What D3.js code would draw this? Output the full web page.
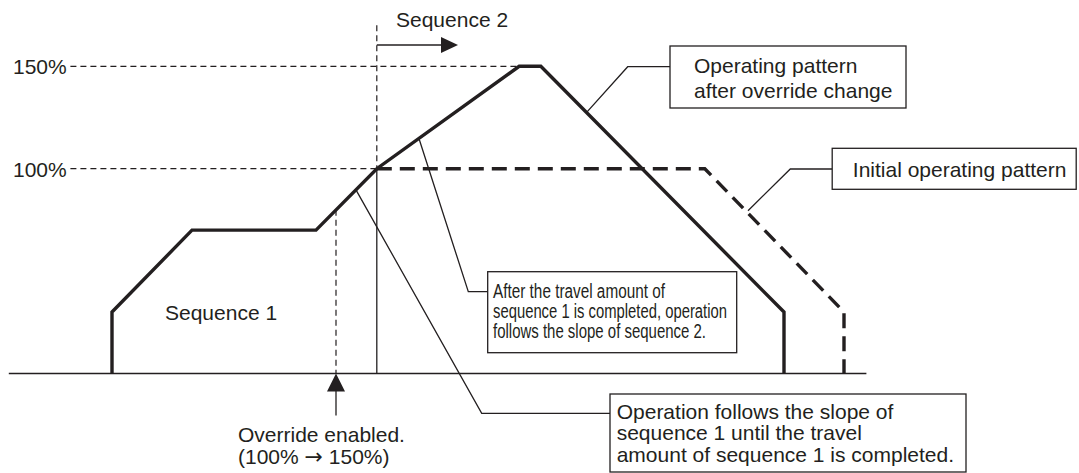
<!DOCTYPE html>
<html>
<head>
<meta charset="utf-8">
<script src="https://cdn.jsdelivr.net/npm/d3@7"></script>
<style>
  html, body { margin: 0; padding: 0; background: #fff; }
  svg { display: block; }
</style>
</head>
<body>
<svg id="chart"></svg>
<script>
// Override change: speed pattern before / after override (speed in %, time in arbitrary units)

const W = 1079;
const H = 473;
const INK = "#231f20";
const FONT = "'Liberation Sans', Arial, Helvetica, sans-serif";

// reference speed levels
const SPEED_LEVELS = [150, 100];
const SPEED_LABELS = ["150%", "100%"];

// operating pattern after override change (solid)
const afterTime = [0, 0, 10, 25.5, 33.1, 50.9, 53.6, 84, 84];
const afterSpeed = [0, 30, 70, 70, 100, 150, 150, 30, 0];

// initial operating pattern, from where sequence 2 begins (dashed)
const initTime = [33.1, 74.1, 91.5, 91.5];
const initSpeed = [100, 100, 30, 0];

// events
const OVERRIDE_T = 28;
const OVERRIDE_SPEED = 80;
const SEQ2_T = 33.1;
const SEQ2_TOP = 170;
const SEQ2_ARROW_END = 43.25;
const SEQ2_ARROW_SPEED = 160.4;
const AXIS_T = [-12.9, 94.3];
const REF_START_T = -5.2;

const x = d3.scaleLinear().domain([0, 100]).range([112, 912]);
const y = d3.scaleLinear().domain([0, 150]).range([373.5, 66.3]);

const svg = d3.select("#chart").attr("width", W).attr("height", H);

const line = d3.line().x(d => x(d[0])).y(d => y(d[1]));

// dashed reference levels
SPEED_LEVELS.forEach((lvl, i) => {
    const endT = lvl === 150 ? afterTime[5] : SEQ2_T;
    svg.append("line")
        .attr("x1", x(REF_START_T)).attr("x2", x(endT))
        .attr("y1", y(lvl)).attr("y2", y(lvl))
        .attr("stroke", INK).attr("stroke-width", 1.2)
        .attr("stroke-dasharray", "6,4");
    svg.append("text")
        .attr("x", 13).attr("y", y(lvl) + 8)
        .attr("font-family", FONT).attr("font-size", 21)
        .attr("fill", INK)
        .text(SPEED_LABELS[i]);
});

// time axis
svg.append("line")
    .attr("x1", x(AXIS_T[0])).attr("x2", x(AXIS_T[1]))
    .attr("y1", y(0)).attr("y2", y(0))
    .attr("stroke", INK).attr("stroke-width", 1.3);

// sequence 2 boundary: dashed above 100%, solid below
svg.append("line")
    .attr("x1", x(SEQ2_T)).attr("x2", x(SEQ2_T))
    .attr("y1", y(SEQ2_TOP)).attr("y2", y(100))
    .attr("stroke", INK).attr("stroke-width", 1.2)
    .attr("stroke-dasharray", "6,4");
svg.append("line")
    .attr("x1", x(SEQ2_T)).attr("x2", x(SEQ2_T))
    .attr("y1", y(100)).attr("y2", y(0))
    .attr("stroke", INK).attr("stroke-width", 1.3);

// sequence 2 arrow
svg.append("line")
    .attr("x1", x(SEQ2_T)).attr("x2", x(SEQ2_ARROW_END) - 14)
    .attr("y1", y(SEQ2_ARROW_SPEED)).attr("y2", y(SEQ2_ARROW_SPEED))
    .attr("stroke", INK).attr("stroke-width", 1.3);
{
    const tx = x(SEQ2_ARROW_END), ty = y(SEQ2_ARROW_SPEED);
    svg.append("path")
        .attr("d", `M${tx},${ty} L${tx - 17},${ty - 8} L${tx - 17},${ty + 8} Z`)
        .attr("fill", INK);
}
svg.append("text")
    .attr("x", 396).attr("y", 27)
    .attr("font-family", FONT).attr("font-size", 21).attr("fill", INK)
    .text("Sequence 2");

// override enabled marker
svg.append("line")
    .attr("x1", x(OVERRIDE_T)).attr("x2", x(OVERRIDE_T))
    .attr("y1", y(OVERRIDE_SPEED)).attr("y2", y(0))
    .attr("stroke", INK).attr("stroke-width", 1.2)
    .attr("stroke-dasharray", "6,4");
{
    const ox = x(OVERRIDE_T), oy = y(0);
    svg.append("path")
        .attr("d", `M${ox},${oy} L${ox - 9},${oy + 18} L${ox + 9},${oy + 18} Z`)
        .attr("fill", INK);
    svg.append("line")
        .attr("x1", ox).attr("x2", ox)
        .attr("y1", oy + 16).attr("y2", oy + 42)
        .attr("stroke", INK).attr("stroke-width", 1.3);
}
{
    const ot = svg.append("text")
        .attr("font-family", FONT).attr("font-size", 21).attr("fill", INK);
    ot.append("tspan").attr("x", 238).attr("y", 441.5).text("Override enabled.");
    const l2 = ot.append("tspan").attr("x", 238).attr("y", 463.5);
    l2.append("tspan").text("(100% ");
    l2.append("tspan").attr("font-family", "'DejaVu Sans', sans-serif").attr("font-size", 22).text("\u2192");
    l2.append("tspan").text(" 150%)");
}

// sequence 1 label
svg.append("text")
    .attr("x", 165).attr("y", 320)
    .attr("font-family", FONT).attr("font-size", 21).attr("fill", INK)
    .text("Sequence 1");

// speed patterns
svg.append("path")
    .datum(d3.zip(initTime, initSpeed))
    .attr("d", line)
    .attr("fill", "none").attr("stroke", INK)
    .attr("stroke-width", 3.4)
    .attr("stroke-dasharray", "15,8");

svg.append("path")
    .datum(d3.zip(afterTime, afterSpeed))
    .attr("d", line)
    .attr("fill", "none").attr("stroke", INK)
    .attr("stroke-width", 3.4)
    .attr("stroke-linejoin", "miter");

// callouts: anchor on the curve, elbow and box in page pixels
const callouts = [
    { anchor: [59.3, 127.4], elbow: [627.7, 66.7], box: [670, 46, 236, 62],
      lines: ["Operating pattern", "after override change"], tx: 694, ty: 72.7, lh: 25.6, fs: 21 },
    { anchor: [79.5, 79.5], elbow: [790.3, 169], box: [832.2, 148.3, 244, 41],
      lines: ["Initial operating pattern"], tx: 852.8, ty: 176.7, lh: 0, fs: 21 },
    { anchor: [30.55, 89.3], elbow: [481.7, 413.3], box: [610, 394, 356, 78],
      lines: ["Operation follows the slope of", "sequence 1 until the travel", "amount of sequence 1 is completed."],
      tx: 616.7, ty: 418.5, lh: 21.7, fs: 21 },
    { anchor: [38.4, 114.4], elbow: [468.3, 291.7], box: [487.7, 271.7, 249, 81],
      lines: ["After the travel amount of", "sequence 1 is completed, operation", "follows the slope of sequence 2."],
      widths: [172, 234, 213], tx: 493, ty: 297.5, lh: 20.3, fs: 19.5, narrow: true }
];

callouts.forEach(c => {
    const [bx, by, bw, bh] = c.box;
    svg.append("path")
        .attr("d", `M${x(c.anchor[0])},${y(c.anchor[1])} L${c.elbow[0]},${c.elbow[1]} L${bx},${c.elbow[1]}`)
        .attr("fill", "none").attr("stroke", INK).attr("stroke-width", 1.3);
    svg.append("rect")
        .attr("x", bx).attr("y", by).attr("width", bw).attr("height", bh)
        .attr("fill", "#fff").attr("stroke", INK).attr("stroke-width", 1.3);
    const t = svg.append("text")
        .attr("font-family", c.narrow ? "'Liberation Sans Narrow', 'Arial Narrow', " + FONT : FONT)
        .attr("font-size", c.fs).attr("fill", INK);
    c.lines.forEach((s, i) => {
        const ts = t.append("tspan")
            .attr("x", c.tx).attr("y", c.ty + i * c.lh)
            .text(s);
        if (c.widths) {
            ts.attr("textLength", c.widths[i]).attr("lengthAdjust", "spacingAndGlyphs");
        }
    });
});
</script>
</body>
</html>
